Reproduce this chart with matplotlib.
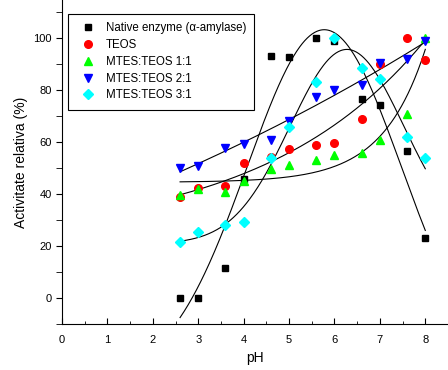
import numpy as np
import matplotlib
matplotlib.use('Agg')
import matplotlib.pyplot as plt
from matplotlib.ticker import MultipleLocator

plt.rcParams['font.family'] = ['Liberation Sans', 'DejaVu Sans']

# pH values (same for every series)
ph = [2.6, 3.0, 3.6, 4.0, 4.6, 5.0, 5.6, 6.0, 6.6, 7.0, 7.6, 8.0]

# relative activity (%)
native = [0, 0, 11.5, 46, 93.4, 92.8, 100, 99, 76.7, 74.5, 56.5, 23]
teos = [39, 42.3, 43, 52.2, 54.5, 57.4, 59, 59.6, 69, 90.2, 100, 91.8]
mtes_11 = [39.6, 42, 40.7, 45, 49.7, 51.4, 53.2, 55, 55.9, 61, 70.7, 100]
mtes_21 = [50, 51, 57.8, 59.3, 61, 68, 77.6, 80.3, 81.9, 90.6, 91.9, 99]
mtes_31 = [21.6, 25.6, 28.2, 29.3, 53.8, 66, 83.1, 100, 88.5, 84.2, 61.9, 54]

labels = ['Native enzyme (\u03b1-amylase)', 'TEOS', 'MTES:TEOS 1:1',
          'MTES:TEOS 2:1', 'MTES:TEOS 3:1']


# least squares fits: y0 + A*exp(x/t) and y0 + A*exp(-2((x-xc)/w)^2)
def fit_exp(x, y):
    x, y = np.asarray(x), np.asarray(y)
    best = None
    for t in np.linspace(0.3, 20, 2000):
        M = np.column_stack([np.ones_like(x), np.exp(x / t)])
        c, *_ = np.linalg.lstsq(M, y, rcond=None)
        err = np.sum((M @ c - y) ** 2)
        if best is None or err < best[0]:
            best = (err, t, c)
    _, t, c = best
    return lambda xx: c[0] + c[1] * np.exp(xx / t)


def fit_gauss(x, y):
    x, y = np.asarray(x), np.asarray(y)
    best = None
    for xc in np.linspace(4.5, 7.5, 121):
        for w in np.linspace(1.0, 6.0, 101):
            M = np.column_stack([np.ones_like(x), np.exp(-2 * ((x - xc) / w) ** 2)])
            c, *_ = np.linalg.lstsq(M, y, rcond=None)
            err = np.sum((M @ c - y) ** 2)
            if best is None or err < best[0]:
                best = (err, xc, w, c)
    _, xc, w, c = best
    return lambda xx: c[0] + c[1] * np.exp(-2 * ((xx - xc) / w) ** 2)


fig = plt.figure(figsize=(4.48, 3.70), dpi=100)
ax = fig.add_axes([62 / 448, 46 / 370, 386 / 448, 324 / 370])

xs = np.linspace(2.6, 8.0, 300)
for ys, f in [(native, fit_gauss), (teos, fit_exp), (mtes_11, fit_exp),
              (mtes_21, fit_exp), (mtes_31, fit_gauss)]:
    ax.plot(xs, f(ph, ys)(xs), color='black', lw=0.8, zorder=1)

ax.plot(ph, native, 's', color='black', ms=4.3, label=labels[0], zorder=3)
ax.plot(ph, teos, 'o', color='red', ms=5.5, label=labels[1], zorder=3)
ax.plot(ph, mtes_11, '^', color='#00ff00', ms=6, label=labels[2], zorder=3)
ax.plot(ph, mtes_21, 'v', color='blue', ms=6, label=labels[3], zorder=3)
ax.plot(ph, mtes_31, 'D', color='cyan', ms=4.8, label=labels[4], zorder=3)

ax.set_xlim(0, 8.5)
ax.set_ylim(-10, 114.8)
ax.spines['top'].set_visible(False)
ax.spines['right'].set_visible(False)
ax.xaxis.set_major_locator(MultipleLocator(1))
ax.xaxis.set_minor_locator(MultipleLocator(0.5))
ax.yaxis.set_major_locator(MultipleLocator(20))
ax.yaxis.set_minor_locator(MultipleLocator(10))
ax.tick_params(axis='x', which='major', direction='in', length=4, labelsize=8, pad=8)
ax.tick_params(axis='x', which='minor', direction='in', length=2.5)
ax.tick_params(axis='y', which='major', direction='out', length=4, labelsize=8)
ax.tick_params(axis='y', which='minor', direction='out', length=4)
ax.set_yticks([0, 20, 40, 60, 80, 100])
ax.set_xlabel('pH', fontsize=10, labelpad=4)
ax.set_ylabel('Activitate relativa (%)', fontsize=10, labelpad=4)

leg = ax.legend(loc='upper left', bbox_to_anchor=(6 / 386, 1 - 14 / 324), fontsize=8.3,
                frameon=True, fancybox=False, edgecolor='black', framealpha=1,
                borderaxespad=0, labelspacing=0.42, handletextpad=0.6,
                borderpad=0.7, handlelength=2.0)
leg.get_frame().set_linewidth(0.8)

fig.savefig('out.png', dpi=100)
